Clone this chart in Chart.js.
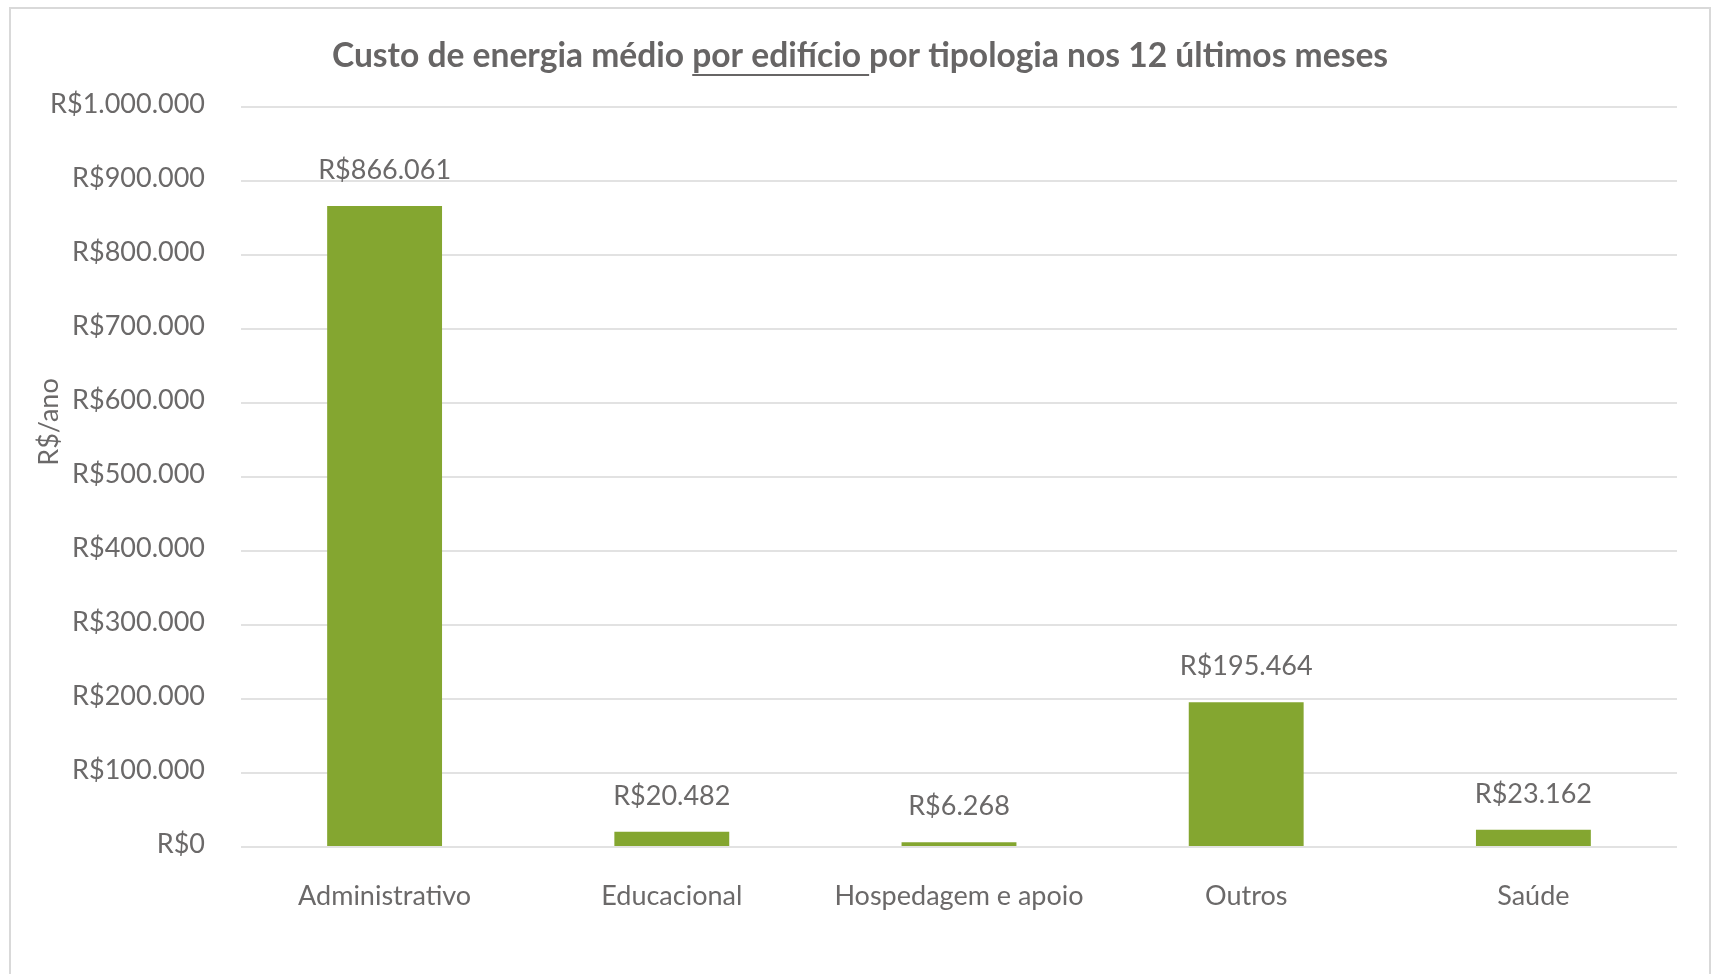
<!DOCTYPE html>
<html>
<head>
<meta charset="utf-8">
<script src="https://cdn.jsdelivr.net/npm/chart.js@4"></script>
<style>
    html, body { margin: 0; padding: 0; background: #fff; }
    #wrap { width: 1717px; height: 974px; position: relative; }
</style>
</head>
<body>
<div id="wrap"><canvas id="custoChart" width="1717" height="974"></canvas></div>
<script>
const categorias = ['Administrativo', 'Educacional', 'Hospedagem e apoio', 'Outros', 'Saúde'];
const custoMedio = [866061, 20482, 6268, 195464, 23162];
const ticksY = [0, 100000, 200000, 300000, 400000, 500000, 600000, 700000, 800000, 900000, 1000000];

const corTexto = '#6b6969';
const fonte = 'Lato, "Open Sans", sans-serif';

// R$ com separador de milhar em ponto
function reais(v) {
    return 'R$' + String(Math.round(v)).replace(/\B(?=(\d{3})+(?!\d))/g, '.');
}

const extras = {
    id: 'extras',
    beforeDraw(chart) {
        const c = chart.ctx;
        c.save();
        c.strokeStyle = '#d9d9d9';
        c.lineWidth = 2;
        c.strokeRect(10, 8, 1700, 980);
        c.restore();
    },
    afterDraw(chart) {
        const c = chart.ctx;
        c.save();

        // titulo com "por edifício " sublinhado
        const partes = ['Custo de energia médio ', 'por edifício ', 'por tipologia nos 12 últimos meses'];
        c.font = 'bold 33.6px ' + fonte;
        c.fillStyle = '#676565';
        c.textBaseline = 'middle';
        c.textAlign = 'left';
        const larguras = partes.map(p => c.measureText(p).width);
        const total = larguras.reduce((a, b) => a + b, 0);
        let x = 860 - total / 2;
        const yTitulo = 56;
        partes.forEach((p, i) => {
            c.fillText(p, x, yTitulo);
            if (i === 1) {
                c.fillRect(x, yTitulo + 18, larguras[i], 2);
            }
            x += larguras[i];
        });

        // titulo do eixo y
        c.font = '27px ' + fonte;
        c.fillStyle = corTexto;
        c.textAlign = 'center';
        c.translate(49, 422);
        c.rotate(-Math.PI / 2);
        c.fillText('R$/ano', 0, 0);
        c.setTransform(1, 0, 0, 1, 0, 0);

        // rótulos de dados
        const meta = chart.getDatasetMeta(0);
        c.font = '27px ' + fonte;
        c.textAlign = 'center';
        c.textBaseline = 'middle';
        meta.data.forEach((bar, i) => {
            c.fillText(reais(custoMedio[i]), bar.x, bar.y - 36);
        });
        c.restore();
    }
};

const chart = new Chart(document.getElementById('custoChart'), {
    type: 'bar',
    data: {
        labels: categorias,
        datasets: [{
            label: 'Custo médio',
            data: custoMedio,
            backgroundColor: '#84a630',
            categoryPercentage: 1,
            barPercentage: 0.4
        }]
    },
    options: {
        responsive: false,
        animation: false,
        layout: { padding: { top: 107, right: 40, left: 0, bottom: 0 } },
        plugins: {
            legend: { display: false },
            tooltip: { enabled: false }
        },
        scales: {
            x: {
                grid: { display: false },
                border: { display: false },
                ticks: {
                    color: corTexto,
                    font: { family: fonte, size: 27 },
                    padding: 25
                },
                afterFit: (s) => { s.height = 127; }
            },
            y: {
                min: 0,
                max: 1000000,
                afterBuildTicks: (s) => { s.ticks = ticksY.map(v => ({ value: v })); },
                grid: { color: '#e2e2e2', lineWidth: 2, drawTicks: false },
                border: { display: false },
                ticks: {
                    color: corTexto,
                    font: { family: fonte, size: 27 },
                    padding: 36,
                    labelOffset: -3,
                    callback: (v) => reais(v)
                },
                afterFit: (s) => { s.width = 241; }
            }
        }
    },
    plugins: [extras]
});
</script>
</body>
</html>
